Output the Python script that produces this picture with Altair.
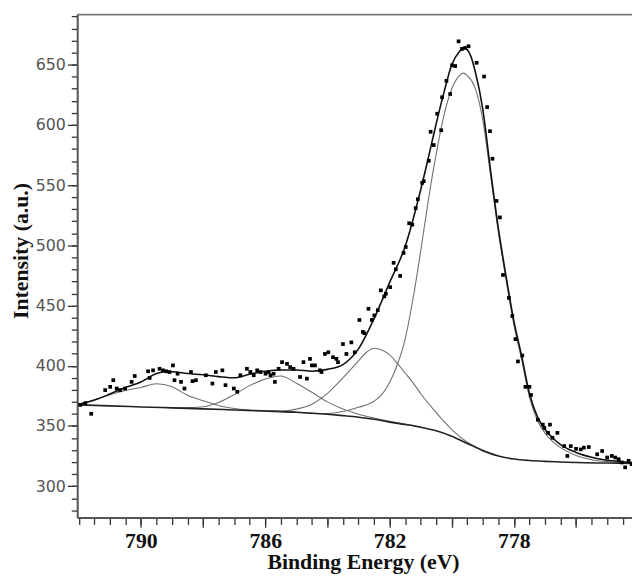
import altair as alt
import pandas as pd

# ---------------- data ----------------
# measured points (binding energy eV, intensity)
pt_ev = [791.95, 791.79, 791.6, 791.15, 790.99, 790.89, 790.78, 790.67, 790.51, 790.3,
         790.2, 789.77, 789.72, 789.61, 789.4, 789.29, 789.19, 789.08, 788.97, 788.92,
         788.82, 788.71, 788.6, 788.39, 788.34, 788.23, 787.91, 787.7, 787.59, 787.38,
         787.28, 787.01, 786.9, 786.8, 786.59, 786.48, 786.37,
         786.26, 786.15, 785.99, 785.89, 785.83, 785.73, 785.69, 785.57, 785.46, 785.3,
         785.2, 785.09, 784.88, 784.77, 784.66, 784.56, 784.5, 784.4, 784.24, 784.19,
         784.08, 783.97, 783.82, 783.71, 783.66, 783.5, 783.39, 783.23, 783.12,
         782.97, 782.86, 782.81, 782.68, 782.57, 782.49, 782.38, 782.28, 782.17, 782.12,
         781.98, 781.87, 781.8, 781.66, 781.55, 781.48, 781.37, 781.27, 781.16, 781.09,
         780.95, 780.9, 780.74,
         780.68, 780.58, 780.47, 780.34, 780.31, 780.17, 780.05, 779.99, 779.89, 779.78,
         779.67, 779.57, 779.46, 779.2, 778.96, 778.86, 778.77, 778.69,
         778.56, 778.45, 778.35, 778.16, 778.05, 777.95, 777.87, 777.73, 777.63, 777.5, 777.45,
         777.23, 777.07, 777.02, 776.9, 776.84, 776.76, 776.6, 776.38, 776.28, 776.17,
         776.0, 775.85, 775.75, 775.59, 775.32, 775.16, 775.0, 774.85, 774.74, 774.63,
         774.53, 774.42, 774.31, 774.21]
pt_val = [367.5, 368.9, 360.1, 379.8, 382.5, 388.0, 381.1, 379.8, 381.1, 386.6,
          391.5, 395.4, 389.9, 396.2, 397.5, 396.2, 395.4, 394.8, 400.3, 388.0,
          393.4, 386.6, 381.1, 394.8, 387.2, 388.0, 392.1, 385.2, 394.8, 396.2,
          383.9, 381.1, 378.4, 392.1, 397.5, 394.8, 392.1,
          396.2, 394.8, 393.4, 394.8, 392.1, 393.4, 386.6, 397.5, 403.0, 401.6,
          398.9, 397.5, 390.7, 403.0, 389.3, 405.7, 400.3, 400.3, 396.2, 394.8,
          409.8, 411.2, 407.1, 405.7, 403.0, 418.0, 409.8, 419.4, 411.2,
          438.0, 428.1, 427.0, 447.3, 438.0, 441.8, 446.2, 462.6, 457.6, 459.8,
          465.3, 485.5, 480.1, 474.6, 493.7, 498.6, 518.3, 517.2, 530.9, 538.3,
          551.9, 553.3, 570.2,
          594.3, 583.3, 609.3, 595.6, 623.0, 636.6, 625.7, 649.5, 648.9, 669.4,
          663.1, 663.9, 665.3, 651.6, 640.2, 614.8, 594.8, 571.9,
          536.9, 523.2, 475.4, 456.3, 441.3, 422.1, 403.6, 408.5, 382.5, 382.5, 375.7,
          355.2, 351.1, 348.4, 344.3, 351.1, 340.2, 344.3, 333.3, 325.1, 333.3,
          331.0, 330.5, 332.0, 332.5, 326.5, 329.2, 323.8, 325.1, 323.8, 322.4,
          319.7, 315.6, 321.1, 318.3]

# fitted envelope
env_ev = [792.0, 791.5, 791.0, 790.5, 790.0, 789.5, 789.25, 789.0, 788.5, 788.0, 787.5,
          787.0, 786.5, 786.0, 785.5, 785.0, 784.5, 784.0, 783.5, 783.0, 782.5, 782.0,
          781.5, 781.0, 780.75, 780.5, 780.25, 780.0, 779.75, 779.6, 779.4, 779.25,
          779.0, 778.75, 778.5, 778.25, 778.0, 777.75, 777.5, 777.25, 777.0, 776.75,
          776.5, 776.0, 775.5, 775.0, 774.5, 774.2]
env_val = [368, 371.5, 376.5, 382, 386.5, 393.5, 395, 395, 393.5, 392.5, 391,
           390, 393, 395.5, 396.5, 396.5, 395.5, 397, 401, 414, 439, 469,
           499, 546, 573, 601, 627, 650, 661, 664, 658, 645,
           613, 562, 514, 474, 437, 408, 377, 358, 347, 340,
           334.5, 328, 324, 321.5, 320.3, 319.7]

# component 1 (main peak)
c1_ev = [785.5, 785.0, 784.5, 784.0, 783.5, 783.0, 782.5, 782.25, 782.0, 781.75, 781.5,
         781.25, 781.0, 780.75, 780.5, 780.25, 780.0, 779.75, 779.62, 779.5, 779.25,
         779.0, 778.75, 778.5, 778.25, 778.0, 777.75, 777.5, 777.25, 777.0, 776.75,
         776.5, 776.0, 775.5, 775.0, 774.5, 774.2]
c1_val = [361.9, 361.4, 360.6, 360.4, 362.0, 365.5, 370.5, 376, 386, 401, 422,
          455, 495, 538, 576, 608, 630, 641, 643, 641, 631,
          604, 558, 511, 471, 434, 405, 374, 355, 344, 337,
          332, 325.5, 322, 320.5, 319.5, 319]

# component 2
c2_ev = [786.5, 786.0, 785.5, 785.0, 784.5, 784.0, 783.5, 783.0, 782.75, 782.5, 782.25,
         782.0, 781.75, 781.5, 781.25, 781.0, 780.5, 780.0, 779.5, 779.0, 778.5]
c2_val = [362.9, 362.6, 362.4, 364, 368, 377, 390, 404, 411, 414.5, 413,
          409, 402, 394, 386, 377, 361, 347, 336.5, 330, 325.2]

# component 3
c3_ev = [789.0, 788.5, 788.0, 787.5, 787.0, 786.5, 786.0, 785.5, 785.0, 784.5, 784.0,
         783.5, 783.0, 782.5, 782.0, 781.5, 781.0]
c3_val = [365.1, 365.3, 366, 369.5, 376, 383.5, 389, 391.5, 385.5, 378, 370,
          364, 359.8, 356.6, 353.8, 351.5, 349.1]

# component 4
c4_ev = [792.0, 791.5, 791.0, 790.5, 790.0, 789.5, 789.0, 788.5, 788.0, 787.5, 787.0,
         786.5, 786.0, 785.5, 785.0]
c4_val = [368, 371.5, 376, 379.5, 382, 385, 382.5, 375.5, 371, 367, 364.5,
          363.3, 362.6, 362, 361.5]

# background
bg_ev = [792.0, 791.0, 790.0, 789.0, 788.0, 787.0, 786.0, 785.0, 784.0, 783.5, 783.0,
         782.5, 782.0, 781.5, 781.0, 780.5, 780.0, 779.5, 779.0, 778.5, 778.0, 777.5,
         777.0, 776.5, 776.0, 775.0, 774.2]
bg_val = [367.5, 366.7, 365.8, 365.0, 364.2, 363.3, 362.4, 361.4, 359.7, 358.6, 357.3,
          355.5, 353.2, 351.2, 349, 346, 341.5, 335.5, 329.5, 325, 322.5, 321.3,
          320.6, 320.1, 319.6, 319.2, 318.9]

# axis tick values
x_major = [790, 788, 786, 784, 782, 780, 778, 776]
x_minor = [792 - 0.5 * i for i in range(36)]
y_major = [300, 350, 400, 450, 500, 550, 600, 650]
y_minor = list(range(280, 691, 10))

# ---------------- tables ----------------
pts = pd.DataFrame({"ev": pt_ev, "val": pt_val})


def sdf(name, ev, val):
    return pd.DataFrame({"ev": ev, "val": val, "series": name})


comps = pd.concat([sdf("c1", c1_ev, c1_val), sdf("c2", c2_ev, c2_val),
                   sdf("c3", c3_ev, c3_val), sdf("c4", c4_ev, c4_val)])
env = sdf("env", env_ev, env_val)
bg = sdf("bg", bg_ev, bg_val)

xs = alt.Scale(domain=[792.05, 774.2], nice=False, zero=False)
ys = alt.Scale(domain=[274, 692], nice=False, zero=False)

serif = "Liberation Serif"

ax_x_minor = alt.Axis(values=x_minor, orient="bottom", labels=False, domain=False,
                      tickSize=7, tickColor="#333", tickWidth=1.3, title=None, grid=False)
ax_y_minor = alt.Axis(values=y_minor, orient="left", labels=False, domain=False,
                      tickSize=6, tickColor="#333", tickWidth=1.3, title=None, grid=False)

ax_x_major = alt.Axis(values=x_major, orient="bottom", format="d",
                      labelExpr="datum.value % 4 == 2 ? datum.label : ''",
                      tickSize=10, tickColor="#333", tickWidth=1.3,
                      domainColor="#555", domainWidth=2,
                      labelFont=serif, labelFontWeight="bold", labelFontSize=22,
                      labelColor="#111", labelPadding=3,
                      title="Binding Energy (eV)", titleFont=serif, titleFontWeight="bold",
                      titleFontSize=22, titleColor="#111", titleX=289, titleY=52,
                      titleAlign="center", titleBaseline="alphabetic", grid=False)
ax_y_major = alt.Axis(values=y_major, orient="left", format="d",
                      tickSize=10, tickColor="#333", tickWidth=1.3,
                      domainColor="#555", domainWidth=2,
                      labelFont="DejaVu Sans", labelFontSize=16, labelColor="#555",
                      labelPadding=2,
                      title="Intensity (a.u.)", titleFont=serif, titleFontWeight="bold",
                      titleFontSize=22, titleColor="#111", titleAngle=270,
                      titleX=-50, titleY=239, titleAlign="center",
                      titleBaseline="alphabetic", grid=False)

# frame: top border (gray) and faint right border
ax_x_top = alt.Axis(orient="top", labels=False, ticks=False, domain=True,
                    domainColor="#7a7a7a", domainWidth=2, title=None, grid=False)
ax_y_right = alt.Axis(orient="right", labels=False, ticks=False, domain=True,
                      domainColor="#d6d6d6", domainWidth=1, title=None, grid=False)

minor_layer = alt.Chart(bg).mark_line(opacity=0).encode(
    x=alt.X("ev:Q", scale=xs, axis=ax_x_minor),
    y=alt.Y("val:Q", scale=ys, axis=ax_y_minor),
)

comp_layer = alt.Chart(comps).mark_line(color="#707070", strokeWidth=1.1,
                                        interpolate="monotone").encode(
    x=alt.X("ev:Q", scale=xs, axis=None),
    y=alt.Y("val:Q", scale=ys, axis=None),
    detail="series:N",
)

bg_layer = alt.Chart(bg).mark_line(color="#222", strokeWidth=1.6,
                                   interpolate="monotone").encode(
    x=alt.X("ev:Q", scale=xs, axis=ax_x_top),
    y=alt.Y("val:Q", scale=ys, axis=ax_y_right),
)

env_layer = alt.Chart(env).mark_line(color="#111", strokeWidth=1.6,
                                     interpolate="monotone").encode(
    x=alt.X("ev:Q", scale=xs, axis=ax_x_major),
    y=alt.Y("val:Q", scale=ys, axis=ax_y_major),
)

pt_layer = alt.Chart(pts).mark_square(size=14, color="#000", opacity=1).encode(
    x=alt.X("ev:Q", scale=xs, axis=None),
    y=alt.Y("val:Q", scale=ys, axis=None),
)

chart = alt.layer(minor_layer, comp_layer, bg_layer, env_layer, pt_layer).resolve_axis(
    x="independent", y="independent"
).properties(
    width=561, height=509,
    autosize=alt.AutoSizeParams(type="none"),
    padding={"left": 70, "top": 3, "right": 0, "bottom": 58},
    background="white",
).configure_view(
    stroke=None
)

chart.save("out.html", embed_options={"renderer": "svg", "actions": False})
